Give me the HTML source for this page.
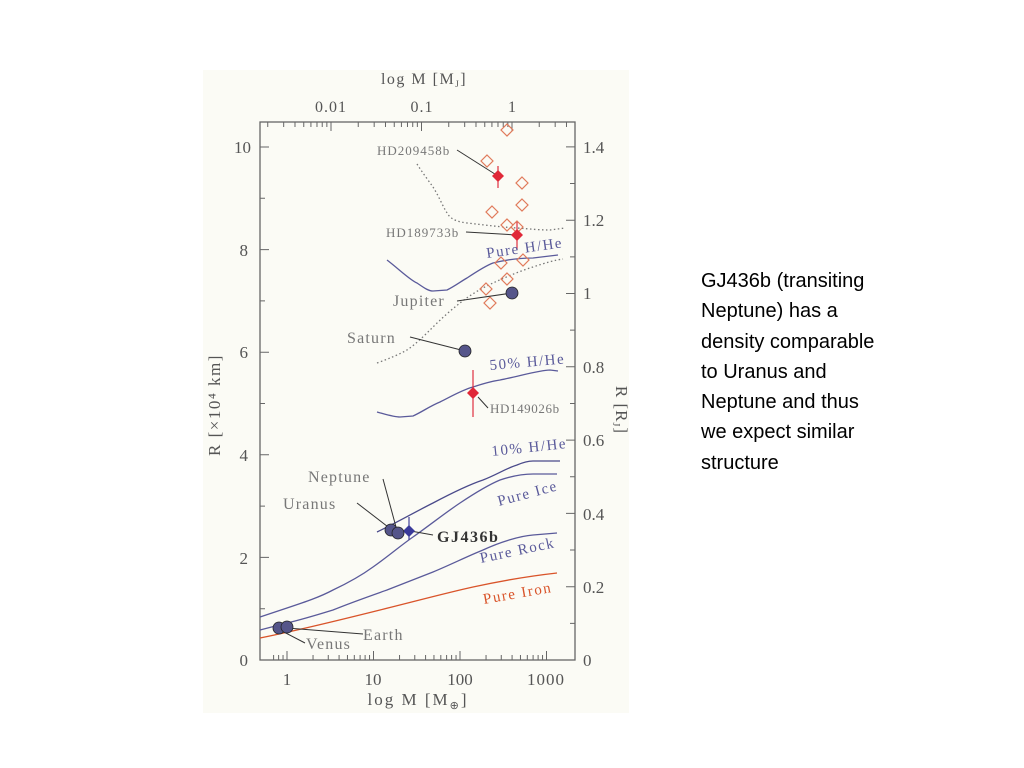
<!DOCTYPE html>
<html><head><meta charset="utf-8"><style>
body{margin:0;background:#fff;width:1024px;height:768px;overflow:hidden;position:relative}
#t{position:absolute;left:701px;top:266px;font:20px/30.3px "Liberation Sans",sans-serif;color:#000}
svg{position:absolute;left:0;top:0}
</style></head><body>
<svg width="1024" height="768" viewBox="0 0 1024 768" font-family="Liberation Serif, serif">
<rect x="203" y="70" width="426" height="643" fill="#fbfbf5"/>
<g id="ax" stroke="#666" stroke-width="1.3" fill="none">
<rect x="260" y="122" width="315" height="538"/>
</g>
<g id="ticks" stroke="#666" stroke-width="1"></g>
<g fill="#555" font-size="17">
<text x="248" y="666" text-anchor="end">0</text>
<text x="248" y="564" text-anchor="end">2</text>
<text x="248" y="461" text-anchor="end">4</text>
<text x="248" y="358" text-anchor="end">6</text>
<text x="248" y="256" text-anchor="end">8</text>
<text x="251" y="153" text-anchor="end">10</text>
<text x="583" y="666">0</text>
<text x="583" y="593">0.2</text>
<text x="583" y="520">0.4</text>
<text x="583" y="446">0.6</text>
<text x="583" y="373">0.8</text>
<text x="583" y="299">1</text>
<text x="583" y="226">1.2</text>
<text x="583" y="153">1.4</text>
<text x="287" y="685" text-anchor="middle">1</text>
<text x="373" y="685" text-anchor="middle">10</text>
<text x="460" y="685" text-anchor="middle">100</text>
<text x="546" y="685" text-anchor="middle" letter-spacing="1">1000</text>
<text x="331" y="112" text-anchor="middle" font-size="16" letter-spacing="1">0.01</text>
<text x="422" y="112" text-anchor="middle" font-size="16" letter-spacing="1">0.1</text>
<text x="512" y="112" text-anchor="middle" font-size="16">1</text>
<text x="418" y="705" text-anchor="middle" letter-spacing="2">log M [M<tspan font-size="11" dy="4">⊕</tspan><tspan dy="-4">]</tspan></text>
<text x="424" y="84" text-anchor="middle" font-size="16" letter-spacing="1.5">log M [M<tspan font-size="9" dy="3">J</tspan><tspan dy="-3">]</tspan></text>
<text transform="translate(220,405) rotate(-90)" text-anchor="middle" letter-spacing="1.5">R [×10⁴ km]</text>
<text transform="translate(616,410) rotate(90)" text-anchor="middle" letter-spacing="1">R [R<tspan font-size="10" dy="3">J</tspan><tspan dy="-3">]</tspan></text>
</g>
<g fill="none" stroke-width="1.3">
<path stroke="#d9542a" d="M260,638 C300,630 340,620 380,610 S450,592 473,587 S530,576 557,573"/>
<path stroke="#5a5a9a" d="M260,630 L287,623 C300,620 320,614 333,610 C350,603 370,596 387,590 C405,583 420,577 433,572 C450,565 468,556 483,550 C500,542 520,536 533,535 L557,533"/>
<path stroke="#5a5a9a" d="M260,617 L287,608 C305,602 320,597 333,590 C350,582 362,575 373,567 C390,555 400,546 413,537 C430,525 445,513 460,503 C475,493 488,485 500,480 C512,476 522,474 533,474 L557,474"/>
<path stroke="#4a4a8a" d="M377,532 C398,522 415,512 433,503 C450,494 468,485 483,480 C496,475 507,468 517,465 C524,462 528,461 533,461 L560,461"/>
<path stroke="#5a5a9a" d="M377,412 C388,415 394,417 400,417 L413,416 C422,412 430,406 440,402 C452,396 462,390 473,387 C485,383 493,381 500,380 C520,376 540,370 550,370 L558,371"/>
<path stroke="#5a5a9a" d="M387,260 C400,270 410,280 417,283 C423,287 428,291 433,291 L447,290 C455,286 460,282 467,278 C476,272 485,266 493,263 C505,260 520,258 533,258 L558,255"/>
<path stroke="#777" stroke-dasharray="1.5,2.5" d="M417,164 C422,172 428,180 433,187 C440,198 444,210 450,217 C455,221 460,222 467,223 C485,225 500,227 517,228 C530,229 540,230 550,230 L565,228"/>
<path stroke="#777" stroke-dasharray="1.5,2.5" d="M377,363 C388,359 398,355 407,350 C416,344 425,335 433,327 C442,318 451,310 460,303 C470,295 482,288 493,283 C506,277 520,271 533,267 C545,263 555,260 563,259"/>
</g>
<g fill="none" stroke="#e07a5a" stroke-width="1.2" id="od"></g>
<g stroke="#333" stroke-width="1" fill="none">
<path d="M457,150 L498,176"/><path d="M466,232 L517,235"/><path d="M457,301 L512,293"/><path d="M410,337 L465,351"/><path d="M478,397 L488,408"/>
<path d="M383,479 L396,527"/><path d="M357,503 L392,530"/><path d="M405,530 L433,535"/><path d="M287,628 L363,634"/><path d="M280,630 L305,643"/>
</g>
<g stroke="#e03040" stroke-width="1.2"><path d="M498,166 V188"/><path d="M517,222 V250"/><path d="M473,370 V417"/></g>
<g fill="#e02838"><path d="M498,170 l6,6 -6,6 -6,-6z"/><path d="M517,229 l6,6 -6,6 -6,-6z"/><path d="M473,387 l6,6 -6,6 -6,-6z"/></g>
<path d="M409,517 V540" stroke="#44449a" stroke-width="1.2"/>
<path d="M409,525 l6,6 -6,6 -6,-6z" fill="#3a3a9a"/>
<g fill="#55558a" stroke="#222" stroke-width="0.8">
<circle cx="512" cy="293" r="6"/><circle cx="465" cy="351" r="6"/>
<circle cx="391" cy="530" r="6"/><circle cx="398" cy="533" r="6"/>
<circle cx="279" cy="628" r="6"/><circle cx="287" cy="627" r="6"/>
</g>
<g fill="#777" font-size="15" letter-spacing="1.2">
<text x="377" y="155" font-size="13" letter-spacing="1">HD209458b</text>
<text x="386" y="237" font-size="13" letter-spacing="1">HD189733b</text>
<text x="393" y="306" font-size="16">Jupiter</text>
<text x="347" y="343" font-size="16">Saturn</text>
<text x="490" y="413" font-size="13" letter-spacing="0.6">HD149026b</text>
<text x="308" y="482" font-size="16">Neptune</text>
<text x="283" y="509" font-size="16">Uranus</text>
<text x="363" y="640" font-size="16">Earth</text>
<text x="306" y="649" font-size="16">Venus</text>
<text x="437" y="542" font-size="16" fill="#333" font-weight="bold" letter-spacing="1.5">GJ436b</text>
</g>
<g fill="#5a5a9a" font-size="15" letter-spacing="1.5">
<text transform="translate(487,258) rotate(-8)">Pure H/He</text>
<text transform="translate(490,370) rotate(-5)">50% H/He</text>
<text transform="translate(492,456) rotate(-6)">10% H/He</text>
<text transform="translate(499,506) rotate(-15)">Pure Ice</text>
<text transform="translate(481,563) rotate(-12)">Pure Rock</text>
<text transform="translate(484,604) rotate(-10)" fill="#d9542a">Pure Iron</text>
</g>
</svg>
<div id="t">GJ436b (transiting<br>Neptune) has a<br>density comparable<br>to Uranus and<br>Neptune and thus<br>we expect similar<br>structure</div>
<script>
var ns="http://www.w3.org/2000/svg",g=document.getElementById("ticks"),s="";
function L(x1,y1,x2,y2){s+="M"+x1+","+y1+"L"+x2+","+y2;}
for(var d=-1;d<=3;d++)for(var k=1;k<10;k++){var m=k*Math.pow(10,d);if(m<0.7||m>1300)continue;var x=287+86.5*Math.log10(m);if(x<260||x>575)continue;var h=k==1?9:5;L(x,660,x,660-h);}
var tx0=512;for(var d=-3;d<=0;d++)for(var k=1;k<10;k++){var m=k*Math.pow(10,d);var x=tx0+90.5*Math.log10(m);if(x<260||x>575)continue;L(x,122,x,122+(k==1?9:5));}
for(var r=0;r<=10;r++){var y=660-51.3*r;L(260,y,r%2==0?269:265,y);}
for(var r=0;r<=1.45;r+=0.1){var y=660-366.5*r;L(575,y,Math.round(r*10)%2==0?566:570,y);}
var p=document.createElementNS(ns,"path");p.setAttribute("d",s);g.appendChild(p);
var od=document.getElementById("od"),pts=[[507,130],[487,161],[522,183],[492,212],[522,205],[507,225],[517,227],[501,263],[523,260],[507,279],[486,289],[490,303]],q="";
pts.forEach(function(a){q+="M"+a[0]+","+(a[1]-6)+"l6,6 -6,6 -6,-6z";});
var p2=document.createElementNS(ns,"path");p2.setAttribute("d",q);od.appendChild(p2);
</script>
</body></html>
